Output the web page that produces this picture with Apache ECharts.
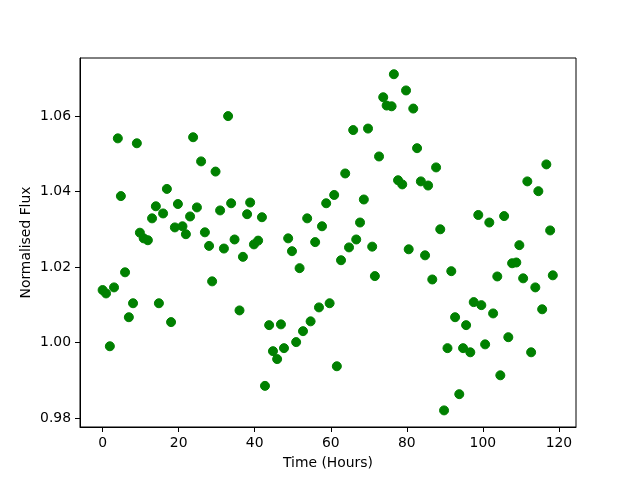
<!DOCTYPE html>
<html>
<head>
<meta charset="utf-8">
<title>Normalised Flux</title>
<script src="https://cdn.jsdelivr.net/npm/echarts@6/dist/echarts.min.js"></script>
<style>
  html, body { margin: 0; padding: 0; background: #fff; }
  #chart { width: 640px; height: 480px; }
</style>
</head>
<body>
<div id="chart"></div>
<script>
// 观测时间 (hours) 和归一化流量
var times = [
  0.0, 0.9, 1.9, 3.0, 4.0, 4.8, 5.9, 6.9, 8.0, 9.0,
  9.8, 10.8, 11.9, 13.0, 14.0, 14.8, 15.9, 16.9, 18.0, 19.0,
  19.8, 21.0, 21.9, 23.0, 23.8, 24.8, 25.9, 26.9, 28.0, 28.8,
  29.7, 30.9, 31.9, 33.0, 33.8, 34.7, 36.0, 36.9, 38.0, 38.8,
  39.8, 40.9, 41.9, 42.7, 43.8, 44.8, 45.9, 46.9, 47.7, 48.8,
  49.8, 50.9, 51.8, 52.7, 53.8, 54.7, 55.9, 56.9, 57.7, 58.8,
  59.7, 60.9, 61.6, 62.7, 63.8, 64.8, 65.9, 66.7, 67.7, 68.7,
  69.8, 70.9, 71.6, 72.7, 73.8, 74.7, 76.0, 76.6, 77.7, 78.8,
  79.8, 80.5, 81.7, 82.7, 83.7, 84.8, 85.6, 86.7, 87.7, 88.8,
  89.8, 90.7, 91.7, 92.7, 93.8, 94.8, 95.6, 96.7, 97.6, 98.8,
  99.6, 100.6, 101.7, 102.7, 103.8, 104.6, 105.6, 106.7, 107.7, 108.8,
  109.6, 110.6, 111.7, 112.7, 113.8, 114.6, 115.6, 116.7, 117.7, 118.4
]
var flux = [
  1.0139, 1.0130, 0.9990, 1.0146, 1.0541, 1.0388, 1.0186, 1.0067, 1.0104, 1.0528,
  1.0291, 1.0276, 1.0271, 1.0329, 1.0361, 1.0104, 1.0342, 1.0407, 1.0054, 1.0305,
  1.0367, 1.0308, 1.0287, 1.0334, 1.0544, 1.0358, 1.0480, 1.0292, 1.0256, 1.0162,
  1.0453, 1.0350, 1.0249, 1.0600, 1.0369, 1.0273, 1.0085, 1.0227, 1.0340, 1.0371,
  1.0260, 1.0270, 1.0332, 0.9885, 1.0046, 0.9977, 0.9956, 1.0048, 0.9985, 1.0276,
  1.0242, 1.0001, 1.0197, 1.0030, 1.0329, 1.0056, 1.0266, 1.0093, 1.0308, 1.0369,
  1.0104, 1.0391, 0.9937, 1.0218, 1.0448, 1.0252, 1.0563, 1.0273, 1.0318, 1.0379,
  1.0567, 1.0254, 1.0176, 1.0493, 1.0650, 1.0628, 1.0626, 1.0711, 1.0430, 1.0419,
  1.0668, 1.0247, 1.0620, 1.0515, 1.0427, 1.0231, 1.0416, 1.0167, 1.0464, 1.0300,
  0.9820, 0.9985, 1.0189, 1.0067, 0.9863, 0.9985, 1.0046, 0.9974, 1.0107, 1.0338,
  1.0099, 0.9995, 1.0318, 1.0077, 1.0175, 0.9913, 1.0335, 1.0014, 1.0210, 1.0212,
  1.0258, 1.0170, 1.0427, 0.9974, 1.0146, 1.0401, 1.0088, 1.0472, 1.0297, 1.0178
]
var xTicks = [0, 20, 40, 60, 80, 100, 120]
var yTicks = [0.98, 1.00, 1.02, 1.04, 1.06]

var points = times.map(function (t, i) {
  return [t, flux[i]]
})

var chart = echarts.init(document.getElementById('chart'))
var font = 'DejaVu Sans'
var option = {
  animation: false,
  backgroundColor: '#fff',
  grid: {
    left: 80,
    right: 64,
    top: 58,
    bottom: 53,
    show: true,
    borderColor: '#000',
    borderWidth: 1,
  },
  xAxis: {
    type: 'value',
    min: -5.95,
    max: 124.5,
    name: 'Time (Hours)',
    nameLocation: 'middle',
    nameGap: 29,
    nameMoveOverlap: false,
    nameTextStyle: { color: '#000', fontFamily: font, fontSize: 13.9 },
    axisLine: { show: true, onZero: false, lineStyle: { color: '#000', width: 1 } },
    axisTick: { show: true, inside: false, length: 5, lineStyle: { color: '#000' }, customValues: xTicks },
    axisLabel: {
      color: '#000',
      fontFamily: font,
      fontSize: 13.9,
      margin: 9,
      customValues: xTicks,
    },
    splitLine: { show: false },
  },
  yAxis: {
    type: 'value',
    min: 0.9776,
    max: 1.0754,
    name: 'Normalised Flux',
    nameLocation: 'middle',
    nameGap: 47,
    nameMoveOverlap: false,
    nameTextStyle: { color: '#000', fontFamily: font, fontSize: 13.9 },
    axisLine: { show: true, onZero: false, lineStyle: { color: '#000', width: 1 } },
    axisTick: { show: true, inside: false, length: 5, lineStyle: { color: '#000' }, customValues: yTicks },
    axisLabel: {
      color: '#000',
      fontFamily: font,
      fontSize: 13.9,
      margin: 9,
      customValues: yTicks,
      formatter: function (v) {
        return v.toFixed(2)
      },
    },
    splitLine: { show: false },
  },
  series: [
    {
      type: 'scatter',
      data: points,
      symbol: 'circle',
      symbolSize: 9,
      itemStyle: {
        color: '#008000',
        borderColor: '#008000',
        borderWidth: 1,
        opacity: 1,
      },
    },
  ],
}
chart.setOption(option)
</script>
</body>
</html>
